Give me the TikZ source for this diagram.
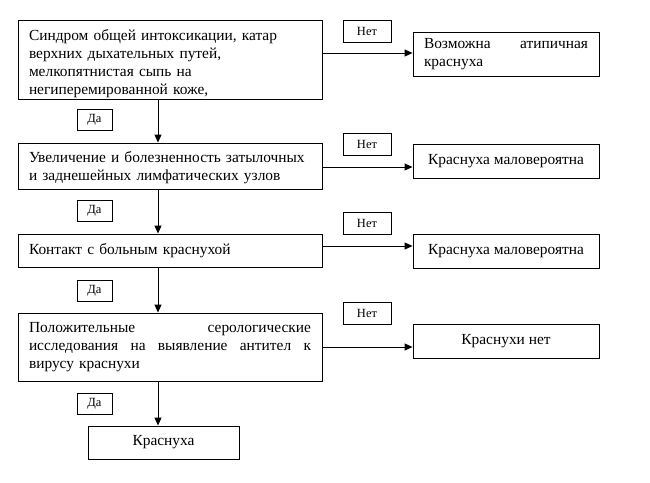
\documentclass[tikz,border=0pt]{standalone}
\usepackage{fontspec}
\setmainfont{Liberation Serif}
\usetikzlibrary{arrows.meta}
\begin{document}
\begin{tikzpicture}[x=1pt,y=1pt,
  every node/.style={draw=black,line width=0.9pt,inner sep=0pt},
  mainbox/.style={inner xsep=11pt,text width=282pt,align=left,font=\fontsize{15.4}{18}\selectfont},
  resbox/.style={minimum width=186pt,align=center,font=\fontsize{15.4}{18}\selectfont},
  lbl/.style={minimum width=#1,minimum height=22pt,font=\fontsize{12.5}{14}\selectfont},
  arr/.style={line width=0.9pt,-{Triangle[length=8pt,width=7pt]}}]
\useasboundingbox (0,0) rectangle (650,-482);
% main column
\node[mainbox,minimum height=79pt] (b1) at (170,-59.5)
  {\rule{0pt}{19pt}Синдром общей интоксикации, катар\\верхних дыхательных путей,\\мелкопятнистая сыпь на\\негиперемированной коже,};
\node[mainbox,minimum height=46pt] (b2) at (170,-166)
  {\rule{0pt}{15pt}Увеличение и болезненность затылочных\\и заднешейных лимфатических узлов};
\node[mainbox,minimum height=33pt] (b3) at (170,-250.5)
  {Контакт с больным краснухой};
\node[mainbox,minimum height=68pt] (b4) at (170,-347)
  {Положительные\hfill серологические\\исследования\hfill на\hfill выявление\hfill антител\hfill к\\вирусу краснухи};
\node[resbox,minimum width=151pt,minimum height=33pt] (b5) at (163.5,-442.5) {Краснуха};
% Да labels
\node[lbl=35pt,minimum height=21pt] (d1) at (94.5,-120) {Да};
\node[lbl=35pt,minimum height=21pt] (d2) at (94.5,-211) {Да};
\node[lbl=35pt,minimum height=21pt] (d3) at (94.5,-290.5) {Да};
\node[lbl=35pt,minimum height=21pt] (d4) at (94.5,-403.5) {Да};
% Нет labels
\node[lbl=48pt] (n1) at (367,-31.5) {Нет};
\node[lbl=48pt] (n2) at (367,-144) {Нет};
\node[lbl=48pt] (n3) at (367,-223) {Нет};
\node[lbl=48pt] (n4) at (367,-313) {Нет};
% results
\node[resbox,minimum height=44pt,inner xsep=11pt,text width=164pt,align=left] (r1) at (506,-54)
  {Возможна\hfill атипичная\\краснуха};
\node[resbox,minimum height=34pt] (r2) at (506,-161) {Краснуха маловероятна};
\node[resbox,minimum height=34pt] (r3) at (506,-251) {Краснуха маловероятна};
\node[resbox,minimum height=34pt] (r4) at (506,-341) {Краснухи нет};
% connectors
\coordinate (vx) at (158,0);
\coordinate (h1) at (0,-53);
\coordinate (h2) at (0,-167);
\coordinate (h3) at (0,-246);
\coordinate (h4) at (0,-347);
\draw[arr] (b1.south -| vx) -- (b2.north -| vx);
\draw[arr] (b2.south -| vx) -- (b3.north -| vx);
\draw[arr] (b3.south -| vx) -- (b4.north -| vx);
\draw[arr] (b4.south -| vx) -- (b5.north -| vx);
\draw[arr] (b1.east |- h1) -- (r1.west |- h1);
\draw[arr] (b2.east |- h2) -- (r2.west |- h2);
\draw[arr] (b3.east |- h3) -- (r3.west |- h3);
\draw[arr] (b4.east |- h4) -- (r4.west |- h4);
\end{tikzpicture}
\end{document}
